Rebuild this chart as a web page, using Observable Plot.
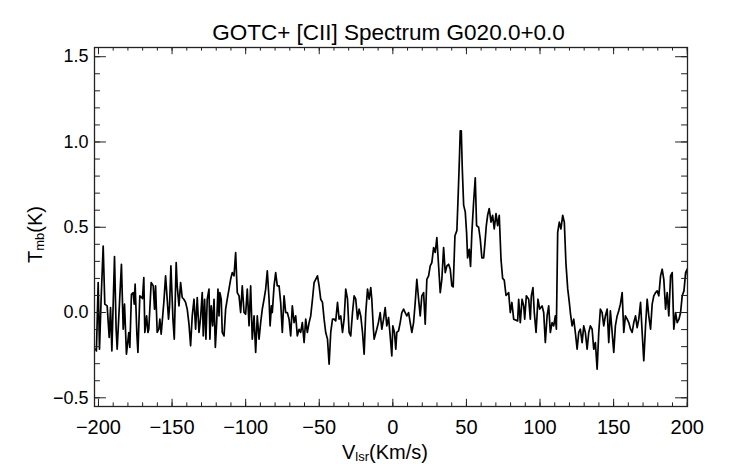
<!DOCTYPE html>
<html><head><meta charset="utf-8">
<script src="https://cdn.jsdelivr.net/npm/d3@7"></script>
<script src="https://cdn.jsdelivr.net/npm/@observablehq/plot@0.6"></script>
<style>
html,body{margin:0;padding:0;background:#fff;}
</style>
</head><body><div id="chart"></div>
<script>
// V_lsr (km/s) and T_mb (K)
const velocity = [
-202.0,-201.4,-200.2,-199.3,-198.2,-196.8,-195.7,-194.1,-192.7,-191.8,
-190.9,-189.1,-188.0,-187.3,-185.7,-184.4,-183.2,-182.3,-181.0,-179.4,
-178.7,-177.6,-176.4,-175.7,-175.1,-173.9,-173.2,-171.9,-170.7,-170.1,
-169.2,-168.5,-167.3,-166.4,-165.8,-164.2,-162.8,-161.9,-161.2,-160.1,
-159.0,-158.3,-157.4,-155.6,-154.4,-153.3,-152.4,-151.7,-150.8,-149.4,
-148.5,-147.2,-146.5,-145.3,-144.2,-143.1,-142.0,-140.8,-139.7,-138.5,
-137.4,-136.3,-135.1,-134.0,-132.9,-131.7,-130.6,-129.5,-128.8,-127.9,
-127.0,-126.1,-124.9,-124.3,-123.4,-122.4,-121.5,-120.6,-119.7,-118.8,
-118.1,-117.5,-116.6,-115.9,-114.7,-113.6,-112.5,-110.2,-109.1,-107.9,
-106.8,-105.7,-104.5,-103.4,-102.3,-101.1,-100.0,-98.9,-97.7,-96.6,
-95.5,-94.3,-93.2,-92.1,-90.9,-89.8,-88.7,-87.5,-86.4,-85.3,
-84.1,-83.4,-82.5,-81.9,-80.7,-79.6,-78.5,-77.3,-76.2,-75.1,
-73.9,-72.8,-71.7,-70.5,-69.4,-68.3,-67.1,-66.0,-64.9,-63.7,
-62.6,-61.5,-60.3,-59.2,-58.1,-56.9,-55.8,-54.6,-53.5,-52.4,
-51.2,-50.1,-49.0,-47.8,-46.7,-45.6,-44.4,-43.3,-42.2,-41.0,
-39.9,-38.8,-37.6,-36.5,-35.4,-34.2,-33.1,-32.0,-30.8,-29.7,
-28.6,-27.4,-26.3,-25.2,-24.0,-22.9,-21.8,-20.6,-19.5,-18.4,
-17.2,-16.1,-15.0,
-14.3,-13.2,-12.7,-10.9,-9.8,-8.6,-7.5,-6.3,-5.2,-4.1,
-2.9,-1.8,-0.7,0.0,1.1,2.0,2.7,3.9,5.0,6.1,
7.3,8.4,9.5,10.7,11.8,12.9,14.1,15.2,16.3,17.5,
18.6,19.7,20.9,22.0,23.1,24.3,25.4,26.5,27.7,28.8,
29.9,31.1,32.2,33.3,34.5,35.6,36.7,37.9,39.0,40.1,
41.0,42.2,43.5,44.4,45.3,45.8,46.5,47.2,48.1,49.2,
50.1,50.8,51.9,52.8,53.7,54.9,56.0,56.9,58.3,59.4,
60.5,61.7,62.6,63.5,64.4,65.5,66.7,67.8,68.9,70.1,
71.2,72.3,
73.5,74.6,75.7,76.9,78.0,78.7,79.8,80.9,82.1,84.8,
85.5,86.6,87.8,88.9,89.6,90.7,92.3,93.4,94.1,95.2,
96.1,97.3,98.6,99.8,101.4,102.5,103.6,104.8,105.9,107.0,
108.2,109.3,110.4,111.1,
112.0,113.1,114.2,115.4,116.5,117.6,118.8,119.9,
120.6,121.8,122.9,124.0,125.2,126.3,127.4,128.6,129.7,130.8,
132.0,133.1,134.2,135.4,136.5,137.6,138.8,139.9,141.0,142.2,
143.3,144.4,145.6,146.7,147.8,149.0,150.1,151.2,152.4,153.5,
154.6,155.8,156.9,158.0,159.2,160.3,161.5,162.6,163.7,164.9,
166.0,167.1,168.3,169.4,170.5,171.7,172.8,173.9,175.1,176.2,
177.3,178.5,179.6,180.7,181.9,183.0,184.1,185.3,186.4,187.5,
188.7,189.8,190.9,192.1,193.2,194.4,195.5,196.6,197.8,198.9,
200.0,201.1
];
const tmb = [
-0.215,-0.225,0.176,-0.215,0.078,0.39,0.049,0.039,-0.146,0.029,
-0.225,0.328,-0.098,-0.215,0.059,0.283,-0.098,0.049,-0.244,-0.117,
-0.205,0.107,0.117,0.049,0.166,-0.127,-0.234,0.098,0.088,0.082,
0.205,-0.117,-0.02,-0.117,-0.098,0.176,0.156,0.02,0.156,-0.117,
-0.098,-0.039,-0.127,0.059,0.215,0.078,-0.039,0.039,0.273,-0.039,
-0.156,0.293,0.156,0.039,0.176,0.088,0.078,0.059,0.02,-0.068,
-0.195,-0.02,0.078,-0.098,0.088,-0.117,-0.029,0.117,-0.137,0.078,
-0.156,0.078,0.137,-0.156,0.039,-0.078,0.078,-0.205,-0.059,0.137,
-0.02,0.117,0.078,-0.117,-0.137,0.02,0.078,0.195,0.234,0.215,
0.352,0.117,0.098,0,0.156,0,-0.01,0.137,-0.078,0.156,
-0.156,-0.02,-0.234,-0.02,-0.156,-0.059,0.02,0.078,0.137,0.244,
0.078,-0.078,0.039,0,0.156,0.234,0.156,0.156,0.059,-0.117,
0.098,0,0,-0.039,-0.137,0.039,-0.059,-0.02,-0.137,-0.098,
-0.117,-0.059,-0.176,-0.039,-0.117,-0.059,-0.02,0.078,0.176,0.195,
0.215,0.156,0.078,0.059,-0.039,-0.117,-0.156,-0.303,-0.117,-0.039,
-0.039,-0.049,0.059,-0.039,-0.02,-0.117,-0.039,0.137,0.078,-0.117,
-0.137,0,0.098,0.078,-0.039,0.02,-0.02,-0.117,-0.244,0,
0.137,0.078,0.146,
0.078,-0.098,-0.156,-0.098,-0.059,0,-0.098,-0.039,0.029,-0.078,
-0.029,-0.137,-0.254,-0.078,-0.117,-0.215,-0.117,-0.107,-0.059,0,
0.02,0,-0.02,0,-0.059,-0.117,-0.059,0.059,0.195,0.078,
-0.02,0.098,0.117,-0.068,0.195,0.215,0.273,0.293,0.381,0.352,
0.439,0.273,0.117,0.195,0.381,0.234,0.273,0.283,0.254,0.156,
0.15,0.45,0.48,0.69,0.92,1.066,1.066,0.84,0.63,0.59,
0.47,0.32,0.37,0.27,0.47,0.65,0.79,0.51,0.5,0.43,
0.32,0.32,0.41,0.51,0.57,0.61,0.53,0.57,0.49,0.58,
0.51,0.57,
0.31,0.2,0.19,0.1,0.11,0.117,0,0.059,-0.039,-0.049,
0.078,-0.059,0.078,0.039,-0.039,0.098,0.078,-0.039,0.098,0.146,
0,-0.117,0.078,0.02,0.039,0,-0.176,-0.02,0.039,-0.117,
-0.059,-0.078,-0.02,-0.098,
0.47,0.53,0.49,0.57,0.53,0.29,0.14,0.06,
0,-0.078,-0.039,-0.117,-0.215,-0.117,-0.098,-0.176,-0.078,-0.117,
-0.215,-0.117,-0.078,-0.098,-0.215,-0.176,-0.332,-0.117,0.02,0,
-0.078,-0.02,0.02,-0.176,0.01,-0.117,-0.234,-0.078,-0.02,0.01,
0.049,0.117,-0.117,-0.02,-0.039,-0.059,-0.098,-0.117,-0.059,-0.02,
-0.088,-0.039,0.059,-0.117,-0.283,-0.078,0.078,-0.02,-0.098,0.049,
0.098,0.117,0.127,0.098,0.215,0.254,0.195,0.02,0.117,-0.02,
0.215,0.234,-0.098,0,-0.059,-0.039,0,0.098,0.127,0.234,
0.254,0.098
];
const xMajorTicks = [-200, -150, -100, -50, 0, 50, 100, 150, 200];
const xMinorTicks = d3.range(-200, 201, 10);
const yMajorTicks = [-0.5, 0.0, 0.5, 1.0, 1.5];
const yMinorTicks = d3.range(-5, 16).map(i => i / 10);
const titleText = "GOTC+ [CII] Spectrum G020.0+0.0";

const data = velocity.map((v, i) => ({v, t: tmb[i]}));
const W = 742, H = 464, mL = 94, mR = 55, mT = 47, mB = 58;
const fh = H - mT - mB;
const fw = W - mL - mR;
const font = "'Liberation Sans', Arial, Helvetica, sans-serif";
const ink = "#222";

const plot = Plot.plot({
  width: W, height: H,
  marginLeft: mL, marginRight: mR, marginTop: mT, marginBottom: mB,
  style: {fontFamily: font, background: "white", color: "black"},
  x: {domain: [-202.7, 200.2]},
  y: {domain: [-0.551, 1.554]},
  marks: [
    Plot.line(data, {x: "v", y: "t", stroke: "black", strokeWidth: 1.7, clip: true}),
    Plot.tickX(xMajorTicks, {x: d => d, insetTop: fh - 7.2, stroke: ink}),
    Plot.tickX(xMinorTicks, {x: d => d, insetTop: fh - 3.6, stroke: ink}),
    Plot.tickX(xMajorTicks, {x: d => d, insetBottom: fh - 7.2, stroke: ink}),
    Plot.tickX(xMinorTicks, {x: d => d, insetBottom: fh - 3.6, stroke: ink}),
    Plot.tickY(yMajorTicks, {y: d => d, insetRight: fw - 11.9, stroke: ink}),
    Plot.tickY(yMinorTicks, {y: d => d, insetRight: fw - 5.9, stroke: ink}),
    Plot.tickY(yMajorTicks, {y: d => d, insetLeft: fw - 11.9, stroke: ink}),
    Plot.tickY(yMinorTicks, {y: d => d, insetLeft: fw - 5.9, stroke: ink}),
    Plot.frame({stroke: ink, strokeWidth: 1.3}),
    Plot.axisX(xMajorTicks, {tickSize: 0, tickPadding: 13, fontSize: 20, tickFormat: d3.format("d"), label: null}),
    Plot.axisY(yMajorTicks, {tickSize: 0, tickPadding: 6, fontSize: 18, tickFormat: d3.format(".1f"), label: null})
  ]
});

const svg = d3.select(plot);
svg.append("text")
  .attr("x", 388.5).attr("y", 40)
  .attr("text-anchor", "middle")
  .attr("font-size", 22.5).attr("fill", "black")
  .text(titleText);

const yl = svg.append("text")
  .attr("transform", "translate(42,263) rotate(-90)")
  .attr("text-anchor", "start")
  .attr("font-size", 20).attr("fill", "black");
yl.append("tspan").text("T");
yl.append("tspan").attr("font-size", 13).attr("dy", 2).text("mb");
yl.append("tspan").attr("dy", -2).text("(K)");

const xl = svg.append("text")
  .attr("x", 342).attr("y", 459)
  .attr("text-anchor", "start")
  .attr("font-size", 20).attr("fill", "black");
xl.append("tspan").text("V");
xl.append("tspan").attr("font-size", 13).attr("dy", 2).text("lsr");
xl.append("tspan").attr("dy", -2).text("(Km/s)");

document.getElementById("chart").appendChild(plot);
</script>
</body></html>
